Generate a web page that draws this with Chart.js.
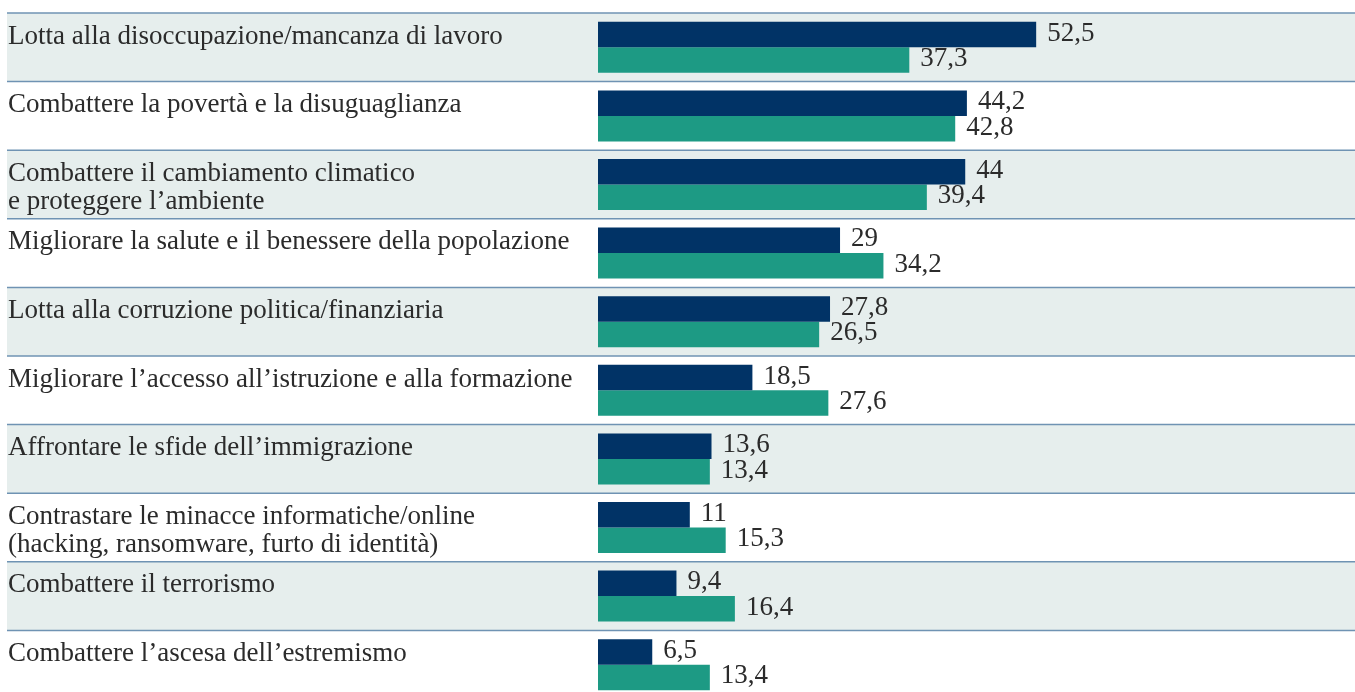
<!DOCTYPE html>
<html>
<head>
<meta charset="utf-8">
<script src="https://cdn.jsdelivr.net/npm/chart.js@4/dist/chart.umd.min.js"></script>
<style>
  html, body { margin: 0; padding: 0; background: #fff; overflow: hidden; }
  #wrap { position: relative; width: 1355px; height: 700px; }
</style>
</head>
<body>
<div id="wrap"><canvas id="chart"></canvas></div>
<script>
// categories (multi-line labels as arrays)
const categories = [
    ['Lotta alla disoccupazione/mancanza di lavoro'],
    ['Combattere la povertà e la disuguaglianza'],
    ['Combattere il cambiamento climatico', 'e proteggere l\u2019ambiente'],
    ['Migliorare la salute e il benessere della popolazione'],
    ['Lotta alla corruzione politica/finanziaria'],
    ['Migliorare l\u2019accesso all\u2019istruzione e alla formazione'],
    ['Affrontare le sfide dell\u2019immigrazione'],
    ['Contrastare le minacce informatiche/online', '(hacking, ransomware, furto di identità)'],
    ['Combattere il terrorismo'],
    ['Combattere l\u2019ascesa dell\u2019estremismo']
];
const seriesA = [52.5, 44.2, 44, 29, 27.8, 18.5, 13.6, 11, 9.4, 6.5];
const seriesB = [37.3, 42.8, 39.4, 34.2, 26.5, 27.6, 13.4, 15.3, 16.4, 13.4];

const navy = '#013366';
const teal = '#1d9a84';
const rowGray = '#e6eeed';
const lineColor = '#6f93b3';
const textColor = '#2b2b2b';
const font = '27px "Liberation Serif", "Times New Roman", serif';

function fmt(v) {
    return String(v).replace('.', ',');
}

// row backgrounds, separators and left labels
const rowsPlugin = {
    id: 'rows',
    beforeDatasetsDraw(chart) {
        const ctx = chart.ctx;
        const y = chart.scales.y;
        const left = 7;
        const right = chart.width;
        const half = (y.getPixelForValue(1) - y.getPixelForValue(0)) / 2;
        ctx.save();
        categories.forEach((lab, i) => {
            const top = y.getPixelForValue(i) - half;
            if (i % 2 === 0) {
                ctx.fillStyle = rowGray;
                ctx.fillRect(left, top, right - left, half * 2);
            }
        });
        ctx.strokeStyle = lineColor;
        ctx.lineWidth = 1.5;
        for (let i = 0; i <= categories.length; i++) {
            const yy = y.getPixelForValue(i) - half;
            ctx.beginPath();
            ctx.moveTo(left, yy);
            ctx.lineTo(right, yy);
            ctx.stroke();
        }
        ctx.fillStyle = textColor;
        ctx.font = font;
        ctx.textBaseline = 'alphabetic';
        ctx.textAlign = 'left';
        categories.forEach((lab, i) => {
            const top = y.getPixelForValue(i) - half;
            lab.forEach((line, j) => {
                ctx.fillText(line, 8, top + 30.5 + j * 28);
            });
        });
        ctx.restore();
    },
    afterDatasetsDraw(chart) {
        const ctx = chart.ctx;
        ctx.save();
        ctx.fillStyle = textColor;
        ctx.font = font;
        ctx.textBaseline = 'alphabetic';
        ctx.textAlign = 'left';
        chart.data.datasets.forEach((ds, di) => {
            chart.getDatasetMeta(di).data.forEach((bar, i) => {
                ctx.fillText(fmt(ds.data[i]), bar.x + 11, bar.y + 6);
            });
        });
        ctx.restore();
    }
};

new Chart(document.getElementById('chart'), {
    type: 'bar',
    data: {
        labels: categories.map(c => c.join(' ')),
        datasets: [
            { data: seriesA, backgroundColor: navy },
            { data: seriesB, backgroundColor: teal }
        ]
    },
    options: {
        indexAxis: 'y',
        responsive: true,
        maintainAspectRatio: false,
        animation: false,
        categoryPercentage: 0.744,
        barPercentage: 1.0,
        layout: { padding: { left: 598, top: 13, right: 0, bottom: 1 } },
        plugins: {
            legend: { display: false },
            tooltip: { enabled: false }
        },
        scales: {
            x: { display: false, min: 0, max: 90.7 },
            y: { display: false }
        }
    },
    plugins: [rowsPlugin]
});
</script>
</body>
</html>
